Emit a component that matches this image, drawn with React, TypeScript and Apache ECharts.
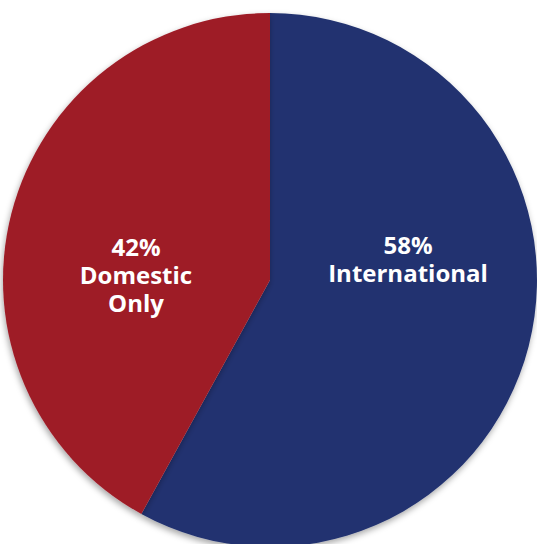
import React, { useEffect, useRef } from "react";
import * as echarts from "echarts";

const categories = ["International", "Domestic\nOnly"];
const values = [58, 42];
const colors = ["#22336f", "#9e1c28"];
const labelPositions = [
  [408, 258],
  [136, 274],
];

export default function App() {
  const ref = useRef<HTMLDivElement>(null);
  useEffect(() => {
    const chart = echarts.init(ref.current!, null, { renderer: "svg" });
    chart.setOption({
      animation: false,
      backgroundColor: "#ffffff",
      series: [
        {
          type: "pie",
          center: [270, 280],
          radius: 267,
          startAngle: 90,
          clockwise: true,
          data: categories.map((name, i) => ({
            name,
            value: values[i],
            itemStyle: { color: colors[i] },
          })),
          itemStyle: {
            shadowBlur: 6,
            shadowColor: "rgba(0,0,0,0.35)",
            shadowOffsetX: -1,
            shadowOffsetY: 3,
          },
          label: {
            show: true,
            position: "inside",
            formatter: (p: any) => `${p.value}%\n${p.name}`,
            color: "#ffffff",
            fontFamily: "Open Sans",
            fontWeight: "bold",
            fontSize: 24,
            lineHeight: 28,
            align: "center",
            verticalAlign: "middle",
          },
          labelLine: { show: false },
          labelLayout: (params: any) => {
            const pos = labelPositions[params.dataIndex];
            return { x: pos[0], y: pos[1], align: "center", verticalAlign: "middle" };
          },
          emphasis: { disabled: true },
        },
      ],
    });
    return () => chart.dispose();
  }, []);
  return (
    <div
      ref={ref}
      style={{ position: "fixed", left: 0, top: 0, width: 537, height: 544 }}
    />
  );
}
